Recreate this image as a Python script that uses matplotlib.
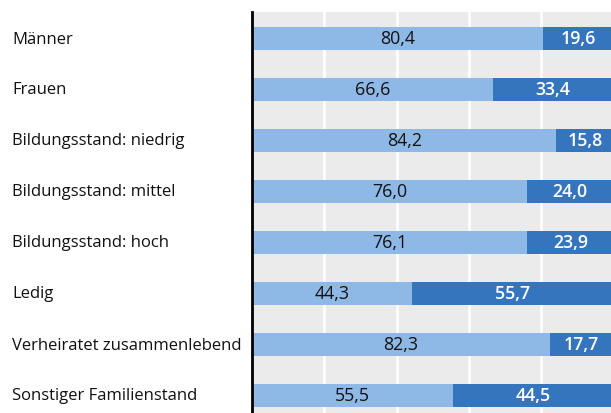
import matplotlib
matplotlib.use("Agg")
import matplotlib.pyplot as plt

categories = ["Männer", "Frauen", "Bildungsstand: niedrig", "Bildungsstand: mittel",
              "Bildungsstand: hoch", "Ledig", "Verheiratet zusammenlebend",
              "Sonstiger Familienstand"]
series_a = [80.4, 66.6, 84.2, 76.0, 76.1, 44.3, 82.3, 55.5]
series_b = [19.6, 33.4, 15.8, 24.0, 23.9, 55.7, 17.7, 44.5]

plt.rcParams['font.family'] = ['Open Sans', 'DejaVu Sans']

W, H = 611, 414
fig = plt.figure(figsize=(W / 100, H / 100), dpi=100)
left = 252 / W
right_px = 613.5
ax = fig.add_axes([left, 0, (right_px - 252) / W, 1 - 13 / H])
ax.set_facecolor("#EBEBEB")

light = "#8EB8E5"
dark = "#3575BE"
y = list(range(len(categories)))
ax.barh(y, series_a, height=0.45, color=light, zorder=3)
ax.barh(y, series_b, left=series_a, height=0.45, color=dark, zorder=3)

def fmt(v):
    return f"{v:.1f}".replace(".", ",")

for i, (a, b) in enumerate(zip(series_a, series_b)):
    ax.text(a / 2, i, fmt(a), ha="center", va="center", fontsize=12.8,
            color="#111111", zorder=4)
    ax.text(a + b / 2, i, fmt(b), ha="center", va="center", fontsize=12.8,
            color="white", fontweight="semibold", zorder=4)

for gx in [20, 40, 60, 80]:
    ax.axvline(gx, color="white", lw=2, zorder=1)

ax.set_xlim(0, 100)
ax.set_ylim((414 - 39.5) / 51, -(39.5 - 13) / 51)
ax.set_xticks([])
ax.set_yticks([])
for s in ["top", "right", "bottom"]:
    ax.spines[s].set_visible(False)
ax.spines["left"].set_color("black")
ax.spines["left"].set_linewidth(2)
ax.spines["left"].set_zorder(5)

for i, c in enumerate(categories):
    yy = 39.5 + 51 * i
    fig.text(12 / W, 1 - yy / H, c, ha="left", va="center", fontsize=12,
             color="#111111")

fig.savefig("out.png", dpi=100)
